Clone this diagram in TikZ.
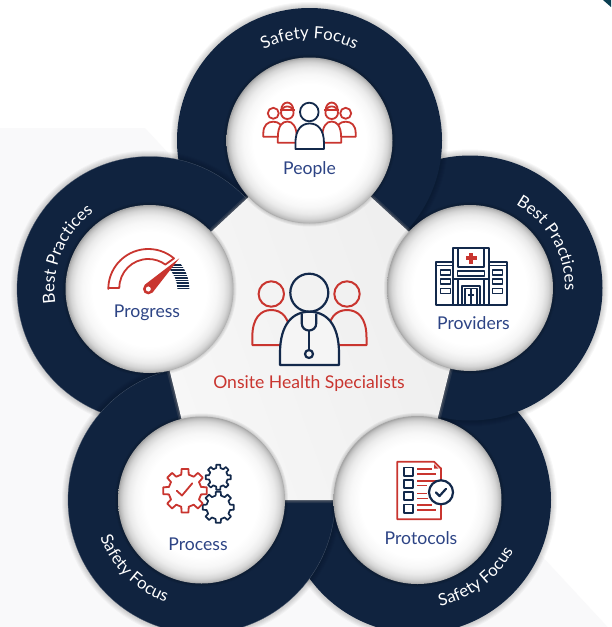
\documentclass[tikz,border=0pt]{standalone}
\usepackage{fontspec}
\setmainfont{Lato}
\usetikzlibrary{calc,decorations.text}
\definecolor{ringnavy}{HTML}{10233F}
\definecolor{iconnavy}{HTML}{13294B}
\definecolor{labelblue}{HTML}{2D4485}
\definecolor{iconred}{HTML}{C9352F}
\definecolor{bgpale}{HTML}{F9F9FA}
\pgfdeclareradialshading{ballshade}{\pgfpoint{0bp}{0bp}}{color(0bp)=(white);color(17bp)=(white);color(20bp)=(white!97!black);color(22bp)=(white!92!black);color(23.5bp)=(white!84!black);color(24.5bp)=(white!74!black);color(25bp)=(white!64!black);color(50bp)=(white!64!black)}
\tikzset{
  ringdisk/.style={fill=ringnavy},
  rededge/.style={draw=iconred,line width=1.8pt,line join=round},
  navyedge/.style={draw=iconnavy,line width=1.8pt,line join=round},
  caption/.style={text=labelblue,anchor=base,inner sep=0pt,font=\fontsize{17.6}{20}\selectfont},
}
% shadowed ring disk: centre name, radius, extra options
\newcommand{\ringdisk}[3]{%
  \foreach \dr in {6,5,4,3,2,1}{\fill[black,opacity=.03] (#1) circle ({#2pt+\dr pt});}
  \fill[ringdisk,#3] (#1) circle (#2pt);}
\newcommand{\ball}[2]{%
  \foreach \dr in {3,2,1}{\fill[black,opacity=.05] (#1) circle ({#2pt+\dr pt});}
  \shade[shading=ballshade] (#1) circle (#2pt);}
% text along an arc: centre, start angle, end angle, radius, text
\newcommand{\arctext}[5]{%
  \path[decorate,decoration={text along path,text align=center,
    text={|\fontsize{16.8}{17}\selectfont\color{white}|#5}}]
    ($(#1)+(#2:#4pt)$) arc[start angle=#2,end angle=#3,radius=#4pt];}
% bell-shaped body: centre x, half width, top y, bottom y
\newcommand{\bellpath}[4]{%
  ({#1-#2},#4) -- ({#1-#2},{#4-0.22*(#4-#3)})
  .. controls ({#1-#2},{#3+0.22*(#4-#3)}) and ({#1-0.55*#2},#3) .. (#1,#3)
  .. controls ({#1+0.55*#2},#3) and ({#1+#2},{#3+0.22*(#4-#3)}) .. ({#1+#2},{#4-0.22*(#4-#3)})
  -- ({#1+#2},#4) -- cycle}
% gear: cx, cy, outer r, inner r, style
\newcommand{\gearicon}[5]{%
  \draw[#5] ({#1+#3*cos(-9)},{#2+#3*sin(-9)})
  \foreach \a in {0,45,...,315}{
    -- ({#1+#3*cos(\a-9)},{#2+#3*sin(\a-9)})
    -- ({#1+#3*cos(\a+9)},{#2+#3*sin(\a+9)})
    -- ({#1+#4*cos(\a+13)},{#2+#4*sin(\a+13)})
    -- ({#1+#4*cos(\a+32)},{#2+#4*sin(\a+32)})
  } -- cycle;}
\begin{document}
\begin{tikzpicture}[x=1pt,y=-1pt]
\useasboundingbox (0,0) rectangle (611,627);
\clip (0,0) rectangle (611,627);
% background
\fill[white] (0,0) rectangle (611,627);
\fill[bgpale] (0,128) -- (145,128) -- (615,635) -- (0,635) -- cycle;
\fill[ringnavy!70!teal] (603,0) -- (611,0) -- (611,7) -- cycle;
% centres
\coordinate (cPeople) at (309.5,140.5);
\coordinate (cProgress) at (149.5,289);
\coordinate (cProviders) at (470,288);
\coordinate (cProcess) at (201.5,500);
\coordinate (cProtocols) at (417.5,500);
% rings in stacking order
\ringdisk{cProtocols}{133.5}{}
\ringdisk{cProviders}{132.5}{}
\ringdisk{cPeople}{132.5}{}
\ringdisk{cProgress}{132.5}{draw=white!25!ringnavy,line width=.25pt}
\ringdisk{cProcess}{133.5}{draw=white!25!ringnavy,line width=.25pt}
% central pentagon
\def\pent{(cPeople) -- (cProviders) -- (cProtocols) -- (cProcess) -- (cProgress) -- cycle}
\draw[gray,opacity=.2,line width=6pt,line join=round] \pent;
\draw[gray,opacity=.3,line width=3pt,line join=round] \pent;
\shade[left color=white!97!black,right color=white!93!black,shading angle=110] \pent;
% circles
\ball{cPeople}{83}
\ball{cProgress}{84}
\ball{cProviders}{83}
\ball{cProcess}{83.5}
\ball{cProtocols}{84}
% ring texts
\arctext{cPeople}{117}{63}{102}{Safety Focus}
\arctext{cProviders}{60.7}{-1}{95}{Best Practices}
\arctext{cProgress}{187.7}{127}{95}{Best Practices}
\arctext{cProcess}{198}{253}{108}{Safety Focus}
\arctext{cProtocols}{280}{334}{108.5}{Safety Focus}
% captions
\node[caption] (lblPeople) at (309.5,174.5) {People};
\node[caption] (lblProgress) at (147,317.5) {Progress};
\node[caption] (lblProviders) at (473.5,329) {Providers};
\node[caption] (lblProcess) at (198,550.3) {Process};
\node[caption] (lblProtocols) at (421,544) {Protocols};
\node[anchor=base,inner sep=0pt,text=iconred,font=\fontsize{17.6}{20}\selectfont] (lblCentre) at (309,388.7) {Onsite Health Specialists};
% People icon
\foreach \sx/\off in {1/0,-1/619}{
\begin{scope}[xshift=\off pt,xscale=\sx]
 \draw[rededge,fill=white] \bellpath{273.3}{10}{121.7}{136.7};
 \draw[rededge,fill=white] (273.3,113.3) circle (5.5pt);
 \draw[rededge,fill=white] \bellpath{287.3}{9.5}{121.5}{142.7};
 \draw[rededge,fill=white] (287.3,112.7) circle (6.3pt);
 \draw[rededge] (281.2,110.2) .. controls (281.5,100) and (293,100) .. (293.4,110.2);
 \draw[rededge] (279.7,110.2) -- (294.9,110.2);
\end{scope}}
\draw[navyedge,fill=white] \bellpath{309.7}{14.3}{123.5}{149};
\draw[navyedge,fill=white] (309.3,112) circle (9.3pt);
% central icon
\draw[rededge,line width=2pt,fill=none] \bellpath{271.3}{19}{310}{345};
\draw[rededge,line width=2pt,fill=none] \bellpath{347}{19.5}{310}{345};
\draw[rededge,line width=2pt,fill=none] (271.3,294) circle (12.7pt);
\draw[rededge,line width=2pt,fill=none] (347,294) circle (12.7pt);
\draw[navyedge,line width=2.2pt,fill=white!96!black] \bellpath{309.5}{29.5}{311.7}{365};
\draw[navyedge,line width=2.2pt] (309.3,292.7) circle (19pt);
\draw[navyedge,line width=2.2pt] (301.7,313.5) -- (301.7,323) .. controls (301.7,333) and (316.3,333) .. (316.3,323) -- (316.3,313.5);
\draw[navyedge,line width=2.2pt] (309,330.5) -- (309,350);
\draw[navyedge,line width=2.2pt] (309,354) circle (4pt);
% Progress icon
\coordinate (hub) at (148.3,289);
\draw[rededge] (108.3,288) -- (119.3,288) arc[start angle=180,end angle=54,radius=29pt] -- ($(hub)+(50:40pt)$) arc[start angle=50,end angle=180,radius=40pt] -- cycle;
\begin{scope}
 \clip (177.3,289) -- (189.3,289) arc[start angle=0,end angle=46,radius=41pt] -- ($(hub)+(46:29pt)$) arc[start angle=46,end angle=0,radius=29pt] -- cycle;
 \foreach \yy in {265,267.6,...,290}{\draw[iconnavy,line width=1.5pt] (170,\yy) -- (192,\yy);}
\end{scope}
\fill[iconred] (179.3,258.3) -- (152.5,292.6) -- (144.7,284.8) -- cycle;
\draw[iconred,line width=2.5pt,fill=white] (hub) circle (4pt);
% Providers icon
\begin{scope}[navyedge,line width=1.8pt]
 \draw (453.3,305) -- (453.3,248.3) -- (489,248.3) -- (489,305);
 \draw (457.7,248.3) -- (457.7,267) -- (484.3,267) -- (484.3,248.3);
 \draw (453.3,261.7) -- (435.7,261.7) -- (435.7,305) -- (506.7,305) -- (506.7,261.7) -- (489,261.7);
 \draw (435.7,265.5) -- (453.3,265.5) (489,265.5) -- (506.7,265.5);
 \foreach \yy in {270,279,288.3}{
  \draw[line width=1.3pt] (440.7,\yy) rectangle (450.7,\yy+5);
  \draw[line width=1.3pt] (492.7,\yy) rectangle (502.7,\yy+5);}
 \draw[line width=1.3pt] (457.7,271) rectangle (484.3,276);
 \draw (453.3,279.3) -- (489,279.3);
 \draw (457.7,279.3) -- (457.7,305) (484.3,279.3) -- (484.3,305);
 \draw (462.3,305) -- (462.3,285.7) -- (480,285.7) -- (480,305);
 \draw (465.2,305) -- (465.2,288.5) -- (477.2,288.5) -- (477.2,305);
 \draw (471,288.5) -- (471,305);
 \draw (467.8,295) -- (474.2,295);
\end{scope}
\fill[iconred] (469,252.8) rectangle (473,263.8);
\fill[iconred] (465.5,256.3) rectangle (476.5,260.3);
% Process icon
\gearicon{218.3}{477.3}{12.7}{9.5}{navyedge,line width=1.7pt}
\gearicon{218.3}{507.3}{15.7}{12}{navyedge,line width=1.7pt}
\gearicon{185}{490.7}{22}{16.5}{rededge,line width=1.8pt,fill=white}
\draw[rededge,line cap=round] (176.7,490.7) -- (182,495.5) -- (192.3,483.3);
% Protocols icon
\draw[rededge] (397.3,461.7) -- (434,461.7) -- (441,468.5) -- (441,519.3) -- (397.3,519.3) -- cycle;
\fill[iconred] (434,464) -- (438.5,468.5) -- (434,468.5) -- cycle;
\foreach \yy/\yb in {467.5/475.8,480/487.8,492.3/500,504.4/512.6}{
 \draw[navyedge,line width=1.8pt] (403.6,\yy) rectangle (413,\yb);}
\foreach \yy/\xe in {469/431.7,473.7/435.7,480.7/435.7,485.3/427,493.3/427,498.3/428,505/431.7,510/435.7}{
 \draw[iconred,line width=1.6pt] (417,\yy) -- (\xe,\yy);}
\draw[navyedge,line width=2.2pt,fill=white] (441,492.3) circle (12pt);
\draw[navyedge,line width=2.2pt,line cap=round] (436,492.5) -- (439.5,496) -- (446,488.8);
\end{tikzpicture}
\end{document}
